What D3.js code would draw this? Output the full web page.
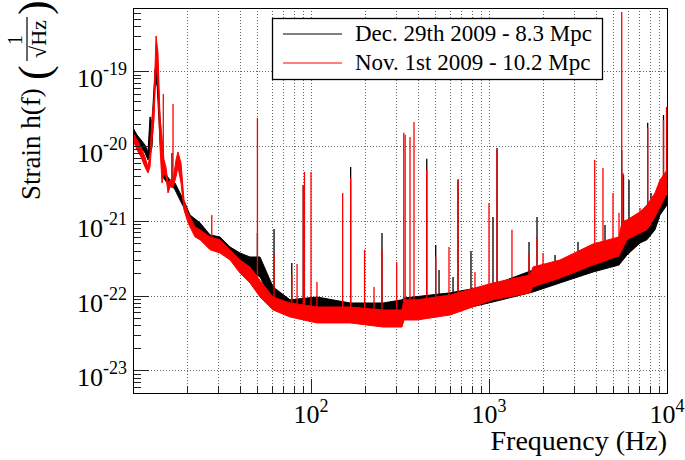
<!DOCTYPE html>
<html>
<head>
<meta charset="utf-8">
<script src="https://cdn.jsdelivr.net/npm/d3@7"></script>
<style>
	body { margin: 0; background: #fff; }
	svg text { font-family: "Liberation Serif", "DejaVu Serif", serif; }
</style>
</head>
<body>
<svg id="chart" width="685" height="460"></svg>
<script>
// Nov. 1st 2009 (red) - noise band, upper / lower edge
const novFreq = [10, 10.53, 11.09, 11.68, 12.14, 12.46, 12.79, 13.12, 13.47, 13.82, 14.18, 14.55, 14.94, 15.32, 15.73, 16.14, 16.78, 17.44, 17.89, 18.61, 19.34, 20.37, 22.3, 23.8, 27.1, 30.8, 35.1, 39.9, 45.4, 51.7, 61.2, 76.2, 108, 166, 254, 324.5, 333, 394, 604, 1053, 1700, 1767, 2505, 3840, 5374, 5589, 5962, 7054, 7720, 8561, 9135, 10000];
const novHigh = [1.5e-20, 1.21e-20, 9.7e-21, 7.15e-21, 5.25e-21, 8.1e-21, 2.45e-20, 4.13e-20, 2.96e-19, 1.76e-19, 2.45e-20, 1.32e-20, 6.52e-21, 5.25e-21, 3.21e-21, 3.52e-21, 3.52e-21, 6.5e-21, 8.34e-21, 5.94e-21, 1.9e-21, 1.28e-21, 8.3e-22, 7.6e-22, 6.1e-22, 5.6e-22, 4.1e-22, 3.0e-22, 2.42e-22, 1.6e-22, 9.6e-23, 7.98e-23, 7.06e-23, 7.06e-23, 6.44e-23, 6.44e-23, 8.8e-23, 8.8e-23, 1.02e-22, 1.48e-22, 1.89e-22, 2.42e-22, 3.0e-22, 4.91e-22, 6.1e-22, 9.7e-22, 1.03e-21, 1.32e-21, 1.63e-21, 2.36e-21, 3.52e-21, 4.79e-21];
const novLow = [1.21e-20, 8.9e-21, 7.15e-21, 5.25e-21, 4.37e-21, 5.25e-21, 1.21e-20, 2.23e-20, 1.29e-19, 6.17e-20, 9.7e-21, 3.21e-21, 4.37e-21, 3.86e-21, 2.36e-21, 2.84e-21, 2.8e-21, 3.86e-21, 5.25e-21, 3.21e-21, 1.4e-21, 9.4e-22, 6.1e-22, 5.6e-22, 4.1e-22, 3.72e-22, 3.0e-22, 2.01e-22, 1.48e-22, 9.6e-23, 6.44e-23, 5.19e-23, 4.32e-23, 4.32e-23, 3.81e-23, 3.81e-23, 4.73e-23, 4.73e-23, 5.52e-23, 8.8e-23, 1.09e-22, 1.31e-22, 1.72e-22, 2.57e-22, 3.4e-22, 4.1e-22, 5.6e-22, 6.9e-22, 7.6e-22, 1.13e-21, 1.53e-21, 2.36e-21];
// Nov. 1st 2009 - lines (frequency, peak)
const novLineFreq = [14.8, 16.78, 27.7, 50, 62, 78, 83.5, 90.5, 91.9, 100, 108, 150.6, 167, 200, 226, 250.5, 303, 332, 338, 360, 379, 447, 502, 596, 670, 834, 1000, 1109, 1346, 1678, 1861, 2011, 3925, 4369, 4973, 5374, 5566, 5660, 7054, 7790, 9557, 9936];
const novLinePeak = [4.97e-20, 3.65e-20, 1.2e-21, 2.38e-20, 3.72e-22, 1.89e-22, 2.65e-22, 3.02e-21, 4.5e-21, 4.5e-21, 1.52e-22, 2.36e-21, 3.75e-21, 4.1e-22, 1.31e-22, 4.1e-22, 2.82e-22, 1.5e-20, 1.41e-20, 1.32e-20, 2.1e-20, 4.8e-21, 3.29e-22, 4.48e-22, 3.52e-21, 2.07e-22, 1.73e-21, 8.87e-21, 7.6e-22, 3.72e-22, 6.1e-22, 3.72e-22, 6.52e-21, 5.1e-21, 2.36e-21, 1.28e-21, 6.2e-19, 4.37e-21, 1.49e-21, 1.75e-20, 2.23e-20, 3.33e-20];

// Dec. 29th 2009 (black) - noise band
const decFreq = [10, 10.53, 11.09, 11.68, 12.14, 12.46, 12.79, 13.29, 13.64, 14.18, 14.74, 15.52, 16.14, 17.22, 18.37, 19.6, 20.9, 23.8, 27.1, 30.8, 35.1, 39.9, 45.4, 51.7, 61.2, 76.2, 108, 166, 254, 324.5, 333, 604, 1053, 1767, 2505, 3840, 5374, 5962, 7054, 7720, 8561, 9135, 10000];
const decHigh = [1.75e-20, 1.41e-20, 1.21e-20, 1.03e-20, 8.34e-21, 2.45e-20, 2.04e-20, 1.04e-19, 1.42e-19, 2.45e-20, 5.25e-21, 3.98e-21, 3.52e-21, 3.21e-21, 2.36e-21, 1.73e-21, 1.2e-21, 9.4e-22, 6.48e-22, 6.1e-22, 4.48e-22, 3.72e-22, 3.29e-22, 3.29e-22, 1.31e-22, 8.8e-23, 9.6e-23, 7.98e-23, 7.98e-23, 8.8e-23, 9.3e-23, 1.09e-22, 1.39e-22, 2.2e-22, 2.74e-22, 3.84e-22, 4.76e-22, 6.48e-22, 8.04e-22, 8.8e-22, 1.28e-21, 1.9e-21, 2.22e-21];
const decLow = [1.41e-20, 1.13e-20, 9.7e-21, 8.1e-21, 6.52e-21, 7.6e-21, 9.7e-21, 6.17e-20, 6.98e-20, 1.21e-20, 3.86e-21, 3.21e-21, 3.21e-21, 2.6e-21, 1.9e-21, 1.4e-21, 9.7e-22, 6.1e-22, 4.48e-22, 4.1e-22, 3.72e-22, 2.2e-22, 2.2e-22, 1.78e-22, 7.98e-23, 6.44e-23, 5.87e-23, 5.19e-23, 5.87e-23, 6.05e-23, 5.52e-23, 6.05e-23, 8.24e-23, 1.12e-22, 1.48e-22, 2.07e-22, 2.57e-22, 3.5e-22, 5.06e-22, 5.6e-22, 7.6e-22, 1.2e-21, 1.63e-21];
const decLineFreq = [16.56, 50, 62, 78, 90.5, 167, 250.5, 447, 502, 524, 628, 670, 792, 1053, 1109, 1678, 1861, 2349, 3162, 4484, 5566, 5697, 6116, 7790, 8130, 9557];
const decLinePeak = [8.1e-21, 6.9e-22, 7.8e-22, 2.74e-22, 3.02e-21, 5.25e-21, 6.9e-22, 6.75e-21, 4.76e-22, 2.2e-22, 1.78e-22, 3.6e-21, 3.95e-22, 1.13e-21, 9.4e-21, 5.22e-22, 1.13e-21, 3.5e-22, 5.22e-22, 8.8e-22, 8.87e-21, 4.11e-21, 3.52e-21, 2.04e-20, 2.36e-21, 2.6e-20];

const xLabelTicks = [100, 1000, 10000];
const yLabelTicks = [1e-19, 1e-20, 1e-21, 1e-22, 1e-23];
const legendLabels = ["Dec. 29th 2009 - 8.3 Mpc", "Nov. 1st 2009 - 10.2 Mpc"];
const legendColors = ["#000000", "#ff0000"];

const svg = d3.select('#chart');
const frame = {left: 133, right: 667, top: 8, bottom: 393};

const x = d3.scaleLog().domain([10, 10000]).range([frame.left, frame.right]);
const y = d3.scaleLog().domain([5e-24, 7e-19]).range([frame.bottom, frame.top]);

// minor ticks: m * 10^k
const xMinor = [];
[10, 100, 1000].forEach(d => { for (let m = 1; m <= 9; m++) xMinor.push(m * d); });
xMinor.push(10000);
const yMinor = [];
[1e-24, 1e-23, 1e-22, 1e-21, 1e-20, 1e-19].forEach(d => {
	for (let m = 1; m <= 9; m++) {
		const v = m * d;
		if (v >= 5e-24 && v <= 7e-19) yMinor.push(v);
	}
});
const isDecade = v => Math.abs(Math.log10(v) - Math.round(Math.log10(v))) < 1e-6;

// grid
const grid = svg.append('g').attr('stroke', '#666').attr('stroke-width', 1).attr('stroke-dasharray', '1,2');
grid.selectAll('line.gx')
	.data(xMinor.filter(v => v > 10 && v < 10000))
	.enter().append('line')
	.attr('x1', d => Math.round(x(d)) + 0.5).attr('x2', d => Math.round(x(d)) + 0.5)
	.attr('y1', frame.top).attr('y2', frame.bottom);
grid.selectAll('line.gy')
	.data(yLabelTicks)
	.enter().append('line')
	.attr('x1', frame.left).attr('x2', frame.right)
	.attr('y1', d => Math.round(y(d)) + 0.5).attr('y2', d => Math.round(y(d)) + 0.5);

// data
svg.append('clipPath').attr('id', 'plotClip')
	.append('rect')
	.attr('x', frame.left).attr('y', frame.top)
	.attr('width', frame.right - frame.left).attr('height', frame.bottom - frame.top);
const plot = svg.append('g').attr('clip-path', 'url(#plotClip)');

const band = d3.area()
	.x(d => x(d.f))
	.y0(d => y(d.lo))
	.y1(d => y(d.hi));

// y of the band middle at a given frequency (pixel space)
function bandBase(freqs, lows, highs, f) {
	const i = d3.bisectRight(freqs, f);
	const i0 = Math.max(0, i - 1), i1 = Math.min(freqs.length - 1, i);
	const x0 = x(freqs[i0]), x1 = x(freqs[i1]);
	const t = x1 === x0 ? 0 : (x(f) - x0) / (x1 - x0);
	const mid = k => (y(lows[k]) + y(highs[k])) / 2;
	return mid(i0) + t * (mid(i1) - mid(i0));
}

function drawSeries(freqs, highs, lows, lineFreqs, linePeaks, color) {
	const pts = freqs.map((f, i) => ({f: f, hi: highs[i], lo: lows[i]}));
	plot.append('path')
		.datum(pts)
		.attr('d', band)
		.attr('fill', color)
		.attr('stroke', color)
		.attr('stroke-width', 1);

	const lines = lineFreqs.map((f, i) => ({f: f, peak: linePeaks[i]}));
	plot.append('g').selectAll('line')
		.data(lines)
		.enter().append('line')
		.attr('x1', d => x(d.f)).attr('x2', d => x(d.f))
		.attr('y1', d => bandBase(freqs, lows, highs, d.f))
		.attr('y2', d => y(d.peak))
		.attr('stroke', color)
		.attr('stroke-width', 1.3);
}

drawSeries(decFreq, decHigh, decLow, decLineFreq, decLinePeak, legendColors[0]);
drawSeries(novFreq, novHigh, novLow, novLineFreq, novLinePeak, legendColors[1]);

// ticks
const ticks = svg.append('g').attr('stroke', '#222').attr('stroke-width', 1);
ticks.selectAll('line.tx')
	.data(xMinor.filter(v => v > 10 && v < 10000))
	.enter().append('line')
	.attr('x1', d => Math.round(x(d)) + 0.5).attr('x2', d => Math.round(x(d)) + 0.5)
	.attr('y1', frame.bottom).attr('y2', d => frame.bottom - (isDecade(d) ? 14 : 7));
ticks.selectAll('line.ty')
	.data(yMinor)
	.enter().append('line')
	.attr('y1', d => Math.round(y(d)) + 0.5).attr('y2', d => Math.round(y(d)) + 0.5)
	.attr('x1', frame.left).attr('x2', d => frame.left + (isDecade(d) ? 16 : 8));

// frame
svg.append('rect')
	.attr('x', frame.left + 0.5).attr('y', frame.top + 0.5)
	.attr('width', frame.right - frame.left).attr('height', frame.bottom - frame.top)
	.attr('fill', 'none').attr('stroke', '#000').attr('stroke-width', 1);

// tick labels
svg.append('g').selectAll('text')
	.data(xLabelTicks)
	.enter().append('text')
	.attr('x', d => x(d)).attr('y', 423)
	.attr('text-anchor', 'middle')
	.attr('font-size', 26)
	.each(function(d) {
		const t = d3.select(this);
		t.append('tspan').text('10');
		t.append('tspan').attr('dy', -11).attr('font-size', 18).text(Math.round(Math.log10(d)));
	});

svg.append('g').selectAll('text')
	.data(yLabelTicks)
	.enter().append('text')
	.attr('x', 127).attr('y', d => y(d) + 16)
	.attr('text-anchor', 'end')
	.attr('font-size', 26)
	.each(function(d) {
		const t = d3.select(this);
		t.append('tspan').text('10');
		t.append('tspan').attr('dy', -12).attr('font-size', 18).text(Math.round(Math.log10(d)));
	});

// axis titles
svg.append('text')
	.attr('x', 667).attr('y', 450)
	.attr('text-anchor', 'end')
	.attr('font-size', 28)
	.text('Frequency (Hz)');

const yTitle = svg.append('g').attr('transform', 'translate(40,200) rotate(-90)');
yTitle.append('text').attr('x', 0).attr('y', 0).attr('font-size', 27).text('Strain h(f)');
yTitle.append('text').attr('x', 120).attr('y', 9).attr('font-size', 44).attr('font-weight', 100).text('(');
yTitle.append('text').attr('x', 160).attr('y', -18).attr('font-size', 20).attr('text-anchor', 'middle').text('1');
yTitle.append('line').attr('x1', 139).attr('x2', 183).attr('y1', -13).attr('y2', -13).attr('stroke', '#000').attr('stroke-width', 1.2);
yTitle.append('text').attr('x', 161).attr('y', 6).attr('font-size', 22).attr('text-anchor', 'middle').text('\u221AHz');
yTitle.append('text').attr('x', 185).attr('y', 9).attr('font-size', 44).text(')');

// legend
const legend = svg.append('g');
legend.append('rect')
	.attr('x', 272.5).attr('y', 18.5).attr('width', 330).attr('height', 61)
	.attr('fill', '#fff').attr('stroke', '#000').attr('stroke-width', 1.3);
legendLabels.forEach((label, i) => {
	const ly = 34 + i * 29;
	legend.append('line')
		.attr('x1', 283).attr('x2', 342).attr('y1', ly).attr('y2', ly)
		.attr('stroke', legendColors[i]).attr('stroke-width', 1);
	legend.append('text')
		.attr('x', 355).attr('y', ly + 7)
		.attr('font-size', 23)
		.text(label);
});
</script>
</body>
</html>
